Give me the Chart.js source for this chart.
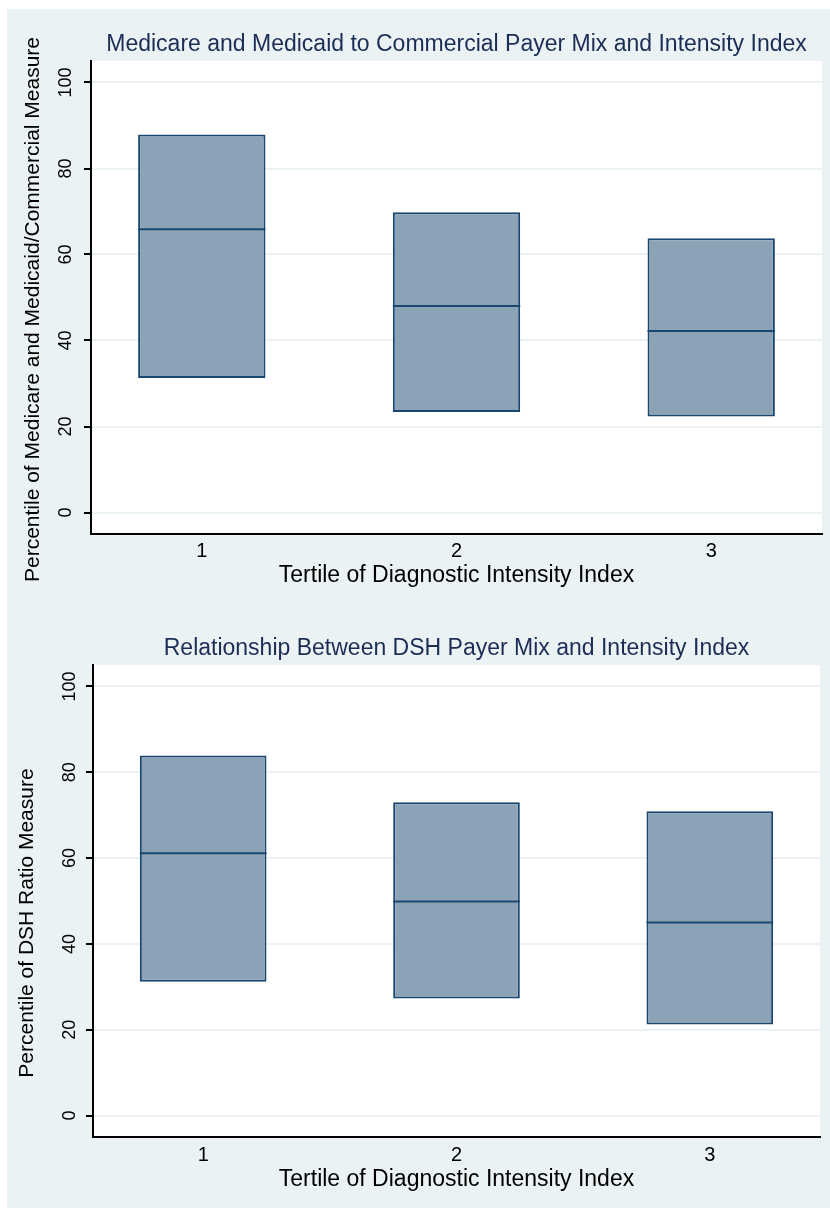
<!DOCTYPE html>
<html>
<head>
<meta charset="utf-8">
<title>Payer mix and diagnostic intensity</title>
<script src="https://cdn.jsdelivr.net/npm/chart.js@4.4.1/dist/chart.umd.min.js"></script>
<style>
	body { margin: 0; background: #fff; }
	#page { position: absolute; left: 7px; top: 9px; width: 823px; height: 1199px; background: #eaf2f3; }
	#page canvas { position: absolute; left: 0; }
	#payerChart { top: 0; }
	#dshChart { top: 596px; }
</style>
</head>
<body>
<div id="page">
	<canvas id="payerChart" width="823" height="596"></canvas>
	<canvas id="dshChart" width="823" height="603"></canvas>
</div>
<script>
var tertiles = [1, 2, 3];
var yTicks = [0, 20, 40, 60, 80, 100];

// Medicare and Medicaid / Commercial percentile: 25th, median, 75th
var payerLow = [31.3, 23.4, 22.3];
var payerMedian = [65.9, 48.0, 42.2];
var payerHigh = [87.9, 69.8, 63.8];

// DSH ratio percentile: 25th, median, 75th
var dshLow = [31.2, 27.3, 21.2];
var dshMedian = [61.1, 49.9, 45.0];
var dshHigh = [83.9, 73.0, 70.9];

var FONT = "'Liberation Sans', Arial, Helvetica, sans-serif";
var navy = 'rgb(26,71,111)';
var boxFill = 'rgb(140,163,183)';
var boxWidth = 0.5; // share of the gap between tertiles

var plotBg = {
	id: 'plotBg',
	beforeDraw: function(chart) {
		var a = chart.chartArea;
		var ctx = chart.ctx;
		ctx.save();
		ctx.fillStyle = '#fff';
		ctx.fillRect(a.left, a.top, a.right - a.left, a.bottom - a.top);
		ctx.restore();
	}
};

// stata puts the y title a bit lower than the plot centre, so draw it here
var yTitle = {
	id: 'yTitle',
	afterDraw: function(chart, args, opts) {
		var a = chart.chartArea;
		var ys = chart.scales.y;
		var ctx = chart.ctx;
		ctx.save();
		ctx.translate(ys.left + opts.x, (a.top + a.bottom) / 2 + opts.shift);
		ctx.rotate(-Math.PI / 2);
		ctx.font = '21px ' + FONT;
		ctx.fillStyle = '#000';
		ctx.textAlign = 'center';
		ctx.textBaseline = 'middle';
		ctx.fillText(opts.text, 0, 0);
		ctx.restore();
	}
};

function makeChart(id, lay, title, yText, low, median, high) {
	var boxes = [];
	var mids = [];
	for (var i = 0; i < tertiles.length; i++) {
		boxes.push({x: tertiles[i], y: [low[i], high[i]]});
		mids.push({x: tertiles[i], y: median[i]});
	}
	var halfBox = function(ctx) {
		var xs = ctx.chart.scales.x;
		return xs.getPixelForValue(1 + boxWidth / 2) - xs.getPixelForValue(1);
	};

	return new Chart(document.getElementById(id), {
		type: 'bar',
		data: {
			datasets: [{
				type: 'bar',
				data: boxes,
				backgroundColor: boxFill,
				borderColor: navy,
				borderWidth: 2,
				borderSkipped: false,
				categoryPercentage: 1,
				barPercentage: boxWidth,
				order: 1
			}, {
				type: 'line',
				data: mids,
				showLine: false,
				pointStyle: 'line',
				pointRadius: halfBox,
				pointHoverRadius: halfBox,
				pointBorderColor: navy,
				pointBorderWidth: 2,
				order: 0
			}]
		},
		options: {
			responsive: false,
			animation: false,
			devicePixelRatio: 1,
			layout: { padding: { left: 0, right: lay.right, top: 0, bottom: 0 } },
			plugins: {
				legend: { display: false },
				tooltip: { enabled: false },
				title: {
					display: true,
					text: title,
					fullSize: false,
					color: '#1c2d55',
					font: { family: FONT, size: 23, weight: 'normal' },
					padding: { top: lay.titleTop, bottom: 2.2 }
				},
				yTitle: { text: yText, x: lay.yTitleX, shift: lay.yTitleShift }
			},
			scales: {
				x: {
					type: 'linear',
					min: 0.565,
					max: 3.435,
					offset: false,
					afterBuildTicks: function(s) {
						s.ticks = tertiles.map(function(v) { return {value: v}; });
					},
					afterFit: function(s) { s.height = 71; },
					grid: { color: 'rgba(0,0,0,0)', drawTicks: false, offset: false },
					border: { color: '#000', width: 2 },
					ticks: {
						color: '#000',
						padding: lay.xTickPad,
						font: { family: FONT, size: 20 },
						callback: function(v) { return String(v); }
					},
					title: {
						display: true,
						text: 'Tertile of Diagnostic Intensity Index',
						color: '#000',
						font: { family: FONT, size: 23 },
						padding: { top: 0, bottom: lay.xTitlePad }
					}
				},
				y: {
					min: -5,
					max: 105,
					afterBuildTicks: function(s) {
						s.ticks = yTicks.map(function(v) { return {value: v}; });
					},
					afterFit: function(s) { s.width = lay.yWidth; },
					grid: { color: '#eaf2f3', lineWidth: 2, tickColor: '#000', tickWidth: 2, tickLength: 7 },
					border: { color: '#000', width: 2 },
					ticks: {
						color: '#000',
						minRotation: 90,
						maxRotation: 90,
						crossAlign: 'center',
						padding: lay.yTickPad,
						font: { family: FONT, size: 18 }
					},
					title: { display: false }
				}
			}
		},
		plugins: [plotBg, yTitle]
	});
}

makeChart('payerChart',
	{ right: 8, yWidth: 84, titleTop: 22.2, xTickPad: 5, xTitlePad: 15.2, yTickPad: 3.3, yTitleX: 26.3, yTitleShift: 12 },
	'Medicare and Medicaid to Commercial Payer Mix and Intensity Index',
	'Percentile of Medicare and Medicaid/Commercial Measure',
	payerLow, payerMedian, payerHigh);

makeChart('dshChart',
	{ right: 10, yWidth: 86, titleTop: 30.2, xTickPad: 6, xTitlePad: 14.2, yTickPad: 0.8, yTitleX: 20, yTitleShift: 22 },
	'Relationship Between DSH Payer Mix and Intensity Index',
	'Percentile of DSH Ratio Measure',
	dshLow, dshMedian, dshHigh);
</script>
</body>
</html>
